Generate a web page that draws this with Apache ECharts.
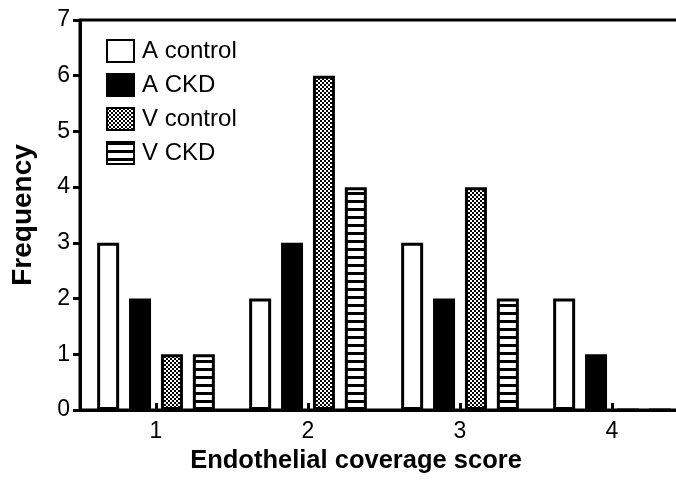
<!DOCTYPE html>
<html>
<head>
<meta charset="utf-8">
<script src="https://cdn.jsdelivr.net/npm/echarts@6/dist/echarts.min.js"></script>
<style>html,body{margin:0;padding:0;background:#fff;overflow:hidden}#c{width:688px;height:484px}</style>
</head>
<body>
<div id="c"></div>
<script>
const categories = ['1', '2', '3', '4'];
const seriesNames = ['A control', 'A CKD', 'V control', 'V CKD'];
const aControl = [3, 2, 3, 2];
const aCKD = [2, 3, 2, 1];
const vControl = [1, 6, 4, 0];
const vCKD = [1, 4, 2, 0];
const yTicks = [0, 1, 2, 3, 4, 5, 6, 7];
const xTitle = 'Endothelial coverage score';
const yTitle = 'Frequency';

function checker() {
  const c = document.createElement('canvas');
  c.width = 4; c.height = 4;
  const g = c.getContext('2d');
  g.fillStyle = '#fff'; g.fillRect(0, 0, 4, 4);
  g.fillStyle = '#000'; g.fillRect(0, 0, 2, 2); g.fillRect(2, 2, 2, 2);
  return c;
}
function stripes() {
  const c = document.createElement('canvas');
  c.width = 4; c.height = 8;
  const g = c.getContext('2d');
  g.fillStyle = '#fff'; g.fillRect(0, 0, 4, 8);
  g.fillStyle = '#000'; g.fillRect(0, 0, 4, 3);
  return c;
}
const fills = ['#ffffff', '#000000', { image: checker(), repeat: 'repeat' }, { image: stripes(), repeat: 'repeat' }];
const values = [aControl, aCKD, vControl, vCKD];

const font = 'Liberation Sans, Arial, sans-serif';
const chart = echarts.init(document.getElementById('c'), null, { renderer: 'canvas' });
chart.setOption({
  animation: false,
  backgroundColor: '#fff',
  grid: { left: 80, top: 20, bottom: 74, right: 0, show: true, borderColor: '#000', borderWidth: 3, backgroundColor: 'transparent' },
  legend: {
    left: 101, top: 34, orient: 'vertical', icon: 'rect',
    itemWidth: 27, itemHeight: 22, itemGap: 10,
    data: seriesNames,
    textStyle: { fontFamily: font, fontSize: 24, color: '#000', lineHeight: 24, padding: [0, 0, 0, 3] }
  },
  xAxis: {
    type: 'category', data: categories,
    axisLine: { show: true, lineStyle: { color: '#000', width: 3 } },
    axisTick: { show: true, inside: true, alignWithLabel: true, length: 7, lineStyle: { color: '#000', width: 3 } },
    axisLabel: { fontFamily: font, fontSize: 23, color: '#000', margin: 10 },
    splitLine: { show: false }
  },
  yAxis: {
    type: 'value', min: 0, max: 7, interval: 1,
    name: yTitle, nameLocation: 'middle', nameGap: 43,
    nameTextStyle: { fontFamily: font, fontSize: 28, fontWeight: 'bold', color: '#000' },
    axisLine: { show: true, lineStyle: { color: '#000', width: 3 } },
    axisTick: { show: true, length: 7, lineStyle: { color: '#000', width: 3 } },
    axisLabel: { fontFamily: font, fontSize: 23, color: '#000', margin: 10,
      formatter: v => yTicks.includes(v) ? String(v) : '' },
    splitLine: { show: false }
  },
  graphic: [{
    type: 'text', x: 356, y: 461,
    style: { text: xTitle, fontFamily: font, fontSize: 25.5, fontWeight: 'bold', fill: '#000', textAlign: 'center', textVerticalAlign: 'middle' }
  }],
  series: seriesNames.map((n, i) => ({
    name: n, type: 'bar', data: values[i],
    barWidth: 22, barGap: '45%', z: 1,
    itemStyle: { color: fills[i], borderColor: '#000', borderWidth: 3 }
  }))
});
</script>
</body>
</html>
